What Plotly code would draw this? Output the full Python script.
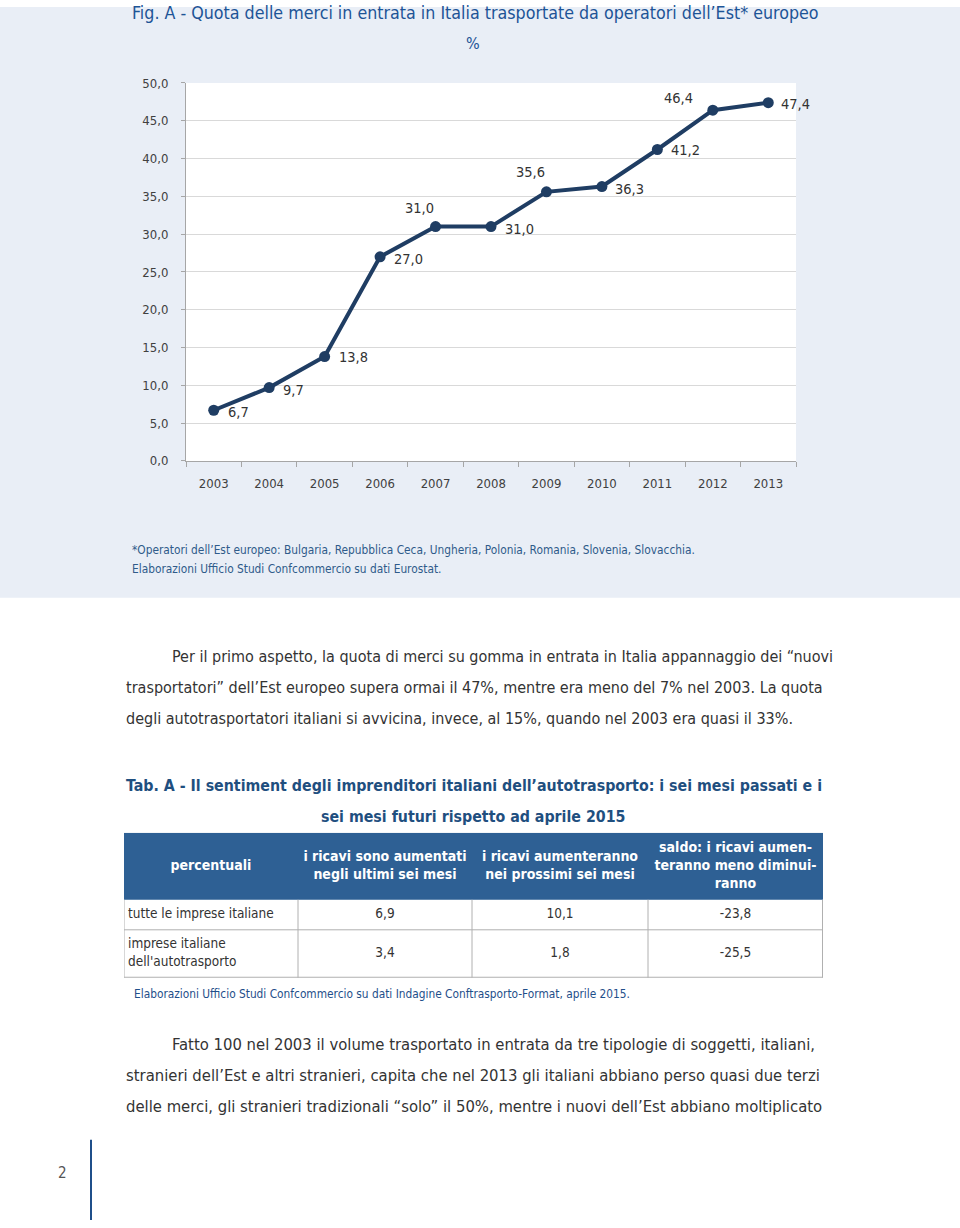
import plotly.graph_objects as go

# ---------------- data ----------------
years = ["2003", "2004", "2005", "2006", "2007", "2008", "2009", "2010", "2011", "2012", "2013"]
quota_est = [6.7, 9.7, 13.8, 27.0, 31.0, 31.0, 35.6, 36.3, 41.2, 46.4, 47.4]

table_header = ["percentuali",
                "i ricavi sono aumentati<br>negli ultimi sei mesi",
                "i ricavi aumenteranno<br>nei prossimi sei mesi",
                "saldo: i ricavi aumen-<br>teranno meno diminui-<br>ranno"]
row_labels = ["tutte le imprese italiane", "imprese italiane<br>dell'autotrasporto"]
ricavi_passati = [6.9, 3.4]
ricavi_futuri = [10.1, 1.8]
saldo = [-23.8, -25.5]

title_fig = "Fig. A - Quota delle merci in entrata in Italia trasportate da operatori dell’Est* europeo"
title_tab1 = "Tab. A - Il sentiment degli imprenditori italiani dell’autotrasporto: i sei mesi passati e i"
title_tab2 = "sei mesi futuri rispetto ad aprile 2015"
note1 = "*Operatori dell’Est europeo: Bulgaria, Repubblica Ceca, Ungheria, Polonia, Romania, Slovenia, Slovacchia."
note2 = "Elaborazioni Ufficio Studi Confcommercio su dati Eurostat."
note_tab = "Elaborazioni Ufficio Studi Confcommercio su dati Indagine Conftrasporto-Format, aprile 2015."
para1 = ["Per il primo aspetto, la quota di merci su gomma in entrata in Italia appannaggio dei “nuovi",
         "trasportatori” dell’Est europeo supera ormai il 47%, mentre era meno del 7% nel 2003. La quota",
         "degli autotrasportatori italiani si avvicina, invece, al 15%, quando nel 2003 era quasi il 33%."]
para2 = ["Fatto 100 nel 2003 il volume trasportato in entrata da tre tipologie di soggetti, italiani,",
         "stranieri dell’Est e altri stranieri, capita che nel 2013 gli italiani abbiano perso quasi due terzi",
         "delle merci, gli stranieri tradizionali “solo” il 50%, mentre i nuovi dell’Est abbiano moltiplicato"]
page_no = "2"

# ---------------- layout helpers (positions / styles) ----------------
W, H = 960, 1228
def px(x): return x / W
def py(y):
    # compensate the small vertical offset/scale observed in the rendered page
    return 1 - ((y - 7) / 0.988) / H

FONT = "DejaVu Sans Condensed, Liberation Sans Narrow, Roboto, sans-serif"
NAVY = "#1f3d63"
TXT = "#333333"

def fmt(v):
    return f"{v:.1f}".replace(".", ",")

# label offsets (pixels) relative to each point
label_dx = [25, 24, 29, 28, -16, 28, -16, 28, 28, -34, 27]
label_dy = [-2, -2, 0, -2, 19, -2, 20, -2, -1, 12, -1]

fig = go.Figure()

fig.add_trace(go.Scatter(
    x=years, y=quota_est, mode="lines+markers",
    line=dict(color=NAVY, width=4),
    marker=dict(color=NAVY, size=11),
    showlegend=False, hoverinfo="skip",
))

ann = []
for i, (v, dx, dy) in enumerate(zip(quota_est, label_dx, label_dy)):
    ann.append(dict(x=i, y=v, xref="x", yref="y", text=fmt(v), showarrow=False,
                    xshift=dx, yshift=dy, font=dict(family=FONT, size=14.5, color=TXT)))

# ---------------- table on its own hidden axes ----------------
col_bounds = [0, 174, 348, 524, 699]
row_bounds = [0, 67, 97, 145]
col_centers = [(a + b) / 2 for a, b in zip(col_bounds[:-1], col_bounds[1:])]
row_centers = [(a + b) / 2 for a, b in zip(row_bounds[:-1], row_bounds[1:])]

fig.add_trace(go.Scatter(
    x=col_centers, y=[row_centers[0]] * 4, xaxis="x2", yaxis="y2", mode="text",
    text=[f"<b>{t}</b>" for t in table_header], textposition="middle center",
    textfont=dict(family=FONT, size=14, color="white"),
    showlegend=False, hoverinfo="skip", cliponaxis=False,
))
body_cols = [[fmt(v) for v in ricavi_passati], [fmt(v) for v in ricavi_futuri], [fmt(v) for v in saldo]]
for r in range(len(row_labels)):
    fig.add_trace(go.Scatter(
        x=[4], y=[row_centers[r + 1]], xaxis="x2", yaxis="y2", mode="text",
        text=[row_labels[r]], textposition="middle right",
        textfont=dict(family=FONT, size=13.5, color=TXT),
        showlegend=False, hoverinfo="skip", cliponaxis=False,
    ))
    fig.add_trace(go.Scatter(
        x=col_centers[1:], y=[row_centers[r + 1]] * 3, xaxis="x2", yaxis="y2", mode="text",
        text=[c[r] for c in body_cols], textposition="middle center",
        textfont=dict(family=FONT, size=13.5, color=TXT),
        showlegend=False, hoverinfo="skip", cliponaxis=False,
    ))

GRID_T = "#b0b0b0"
shapes = [
    dict(type="rect", xref="paper", yref="paper", x0=0, x1=1, y0=py(598), y1=1,
         fillcolor="#e9eef6", line_width=0, layer="below"),
    dict(type="rect", xref="paper", yref="paper", x0=px(186), x1=px(796), y0=py(461), y1=py(83),
         fillcolor="white", line_width=0, layer="below"),
    dict(type="line", xref="paper", yref="paper", x0=px(91), x1=px(91), y0=0, y1=py(1140),
         line=dict(color="#1f4f8a", width=2)),
    dict(type="rect", xref="x2", yref="y2", x0=col_bounds[0], x1=col_bounds[-1],
         y0=row_bounds[0], y1=row_bounds[1], fillcolor="#2e6094", line_width=0, layer="below"),
]
for yb in row_bounds[2:]:
    shapes.append(dict(type="line", xref="x2", yref="y2", x0=col_bounds[0], x1=col_bounds[-1],
                       y0=yb, y1=yb, line=dict(color=GRID_T, width=2 if yb == row_bounds[-1] else 1)))
for xb in col_bounds:
    shapes.append(dict(type="line", xref="x2", yref="y2", x0=xb, x1=xb,
                       y0=row_bounds[1], y1=row_bounds[-1],
                       line=dict(color=GRID_T, width=2 if xb == col_bounds[-1] else 1)))

def add(text, x, y, size=16, color=TXT, xanchor="left", bold=False):
    ann.append(dict(text=f"<b>{text}</b>" if bold else text, x=px(x), y=py(y),
                    xref="paper", yref="paper", xanchor=xanchor, yanchor="middle",
                    showarrow=False, font=dict(family=FONT, size=size, color=color)))

add(title_fig, 130, 13, size=17.7, color="#1d5496")
add("%", 473, 44, size=16, color="#1d5496", xanchor="center")
add(note1, 130, 550, size=11.8, color="#2f5b8a")
add(note2, 130, 569, size=11.8, color="#2f5b8a")
for i, line in enumerate(para1):
    add(line, 170 if i == 0 else 124, 657 + 31 * i, size=16)
add(title_tab1, 124, 786, size=15.8, color="#1f4f7f", bold=True)
add(title_tab2, 473, 817, size=15.8, color="#1f4f7f", bold=True, xanchor="center")
add(note_tab, 132, 994, size=11.8, color="#1f4f8a")
for i, line in enumerate(para2):
    add(line, 170 if i == 0 else 124, 1045 + 31 * i, size=16.5)
add(page_no, 62, 1173, size=15, color="#555555", xanchor="center")

fig.update_layout(
    width=W, height=H, margin=dict(l=0, r=0, t=0, b=0),
    paper_bgcolor="white", plot_bgcolor="rgba(0,0,0,0)",
    separators=",.",
    font=dict(family=FONT, color=TXT),
    shapes=shapes, annotations=ann,
    xaxis=dict(domain=[px(186), px(796)], type="category", range=[-0.5, len(years) - 0.5],
               showline=True, linecolor="#a6a6a6", linewidth=1,
               ticks="outside", tickson="boundaries", ticklen=5, tickcolor="#a6a6a6",
               tickfont=dict(family=FONT, size=13, color="#404040"),
               ticklabelstandoff=10, showgrid=False, fixedrange=True),
    yaxis=dict(domain=[py(461), py(83)], range=[0, 50], dtick=5, tickformat=".1f",
               showline=True, linecolor="#a6a6a6", linewidth=1,
               ticks="outside", ticklen=4, tickcolor="#a6a6a6",
               gridcolor="#d9d9d9", gridwidth=1, zeroline=False,
               tickfont=dict(family=FONT, size=13, color="#404040"),
               ticklabelstandoff=10, fixedrange=True),
    xaxis2=dict(domain=[px(124), px(823)], range=[col_bounds[0], col_bounds[-1]],
                visible=False, fixedrange=True, anchor="y2"),
    yaxis2=dict(domain=[py(978), py(833)], range=[row_bounds[-1], row_bounds[0]],
                visible=False, fixedrange=True, anchor="x2"),
)

fig.write_html(
    "out.html",
    config={"displayModeBar": False},
    post_script=("document.body.style.margin='0';"
                 "document.body.style.overflow='hidden';"
                 "document.documentElement.style.overflow='hidden';"
                 "var d=document.getElementById('{plot_id}');"
                 "d.style.position='absolute';d.style.top='0px';d.style.left='0px';"),
)
